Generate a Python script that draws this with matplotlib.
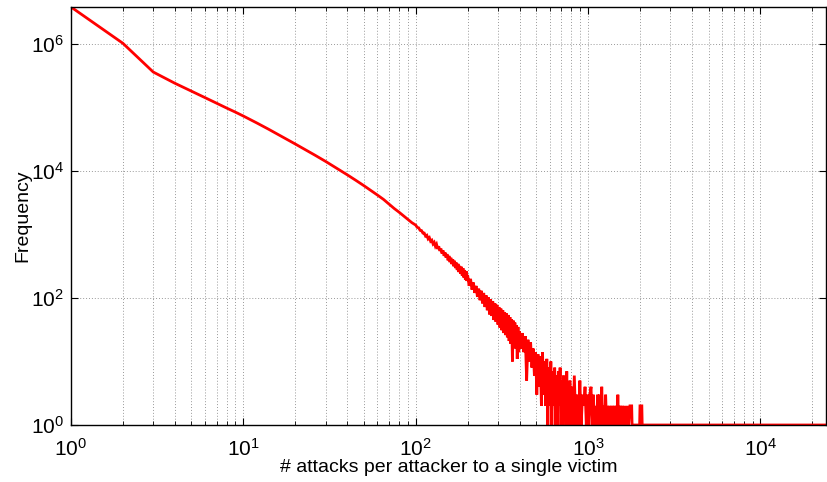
import numpy as np
import matplotlib
matplotlib.use("Agg")
import matplotlib.pyplot as plt
from matplotlib.ticker import LogLocator, NullLocator, FixedLocator, LogFormatterSciNotation, NullFormatter

plt.rcParams['font.family'] = ['Liberation Sans', 'DejaVu Sans']
plt.rcParams['mathtext.fontset'] = 'custom'
plt.rcParams['mathtext.rm'] = 'Liberation Sans'
plt.rcParams['mathtext.it'] = 'Liberation Sans'
plt.rcParams['mathtext.default'] = 'regular'

# ---------------- data ----------------
x_head = [1, 2, 3, 4, 5, 6, 7, 8, 9, 10, 12, 14, 16, 18, 20, 23, 26, 30, 35, 40,
          45, 50, 55, 60, 65, 70, 75, 80, 85, 90, 95]
y_head = [3.8e6, 1.02e6, 3.6e5, 2.4e5, 1.8e5, 1.42e5, 1.16e5, 9.75e4, 8.4e4, 7.3e4,
          5.66e4, 4.53e4, 3.71e4, 3.11e4, 2.65e4, 2.14e4, 1.77e4, 1.41e4, 1.09e4, 8.7e3,
          7.08e3, 5.86e3, 4.91e3, 4.16e3, 3.56e3, 3.0e3, 2.56e3, 2.24e3, 1.96e3, 1.73e3,
          1.53e3]

x_seg1 = list(range(100, 200, 2))
y_seg1 = [1400, 1290, 1270, 1160, 1150, 1050, 1050, 940, 970, 850,
          890, 780, 810, 710, 750, 650, 700, 590, 650, 550,
          600, 500, 560, 460, 520, 430, 490, 390, 460, 365,
          430, 340, 405, 315, 385, 295, 360, 275, 345, 255,
          320, 240, 310, 225, 295, 210, 275, 195, 265, 185]

x_seg2 = list(range(200, 400, 4))
y_seg2 = [230, 155, 200, 135, 175, 120, 155, 104, 140, 92,
          130, 82, 120, 72, 110, 64, 102, 55, 95, 52,
          88, 45, 82, 42, 78, 38, 72, 34, 68, 31,
          64, 28, 60, 26, 57, 24, 54, 21, 50, 19,
          46, 10, 44, 18, 41, 16, 37, 11, 35, 14]

x_seg3 = list(range(400, 800, 8))
y_seg3 = [30, 16, 28, 14, 25, 5, 22, 10, 20, 8,
          16, 6, 14, 3, 13, 4, 12, 2, 14, 3,
          10, 2, 11, 1, 8, 2, 10, 1, 7, 2,
          8, 1, 6, 1, 7, 2, 8, 1, 5, 1,
          6, 2, 4, 1, 7, 1, 4, 1, 5, 1]

x_seg4 = list(range(800, 1600, 16))
y_seg4 = [4, 1, 6, 1, 3, 1, 5, 1, 3, 2,
          4, 1, 3, 1, 3, 4, 1, 3, 1, 2,
          1, 3, 1, 3, 1, 4, 1, 2, 1, 3,
          1, 2, 1, 2, 1, 2, 1, 2, 1, 2,
          1, 2, 1, 3, 1, 2, 1, 2, 1, 2]

x_tail = [1600, 1630, 1660, 1690, 1720, 1750, 1790, 1800, 1990, 2000, 2050, 2060, 24000]
y_tail = [1, 2, 1, 2, 1, 2, 2, 1, 1, 2, 2, 1, 1]

x_label = "# attacks per attacker to a single victim"
y_label = "Frequency"
x_limits = (1, 2.4e4)
y_limits = (1, 3.8e6)
y_major = [1, 1e2, 1e4, 1e6]

# ---------------- plot ----------------
x = np.concatenate([x_head, x_seg1, x_seg2, x_seg3, x_seg4, x_tail]).astype(float)
y = np.concatenate([y_head, y_seg1, y_seg2, y_seg3, y_seg4, y_tail]).astype(float)

W, H = 827, 482
fig = plt.figure(figsize=(W / 100, H / 100), dpi=100)
ax = fig.add_axes([71 / W, (H - 425) / H, (826 - 71) / W, (425 - 7) / H])

ax.plot(x, y, color=(1, 0, 0), linewidth=2.0, solid_joinstyle='miter', clip_on=True)
ax.set_xscale('log')
ax.set_yscale('log')
ax.set_xlim(*x_limits)
ax.set_ylim(*y_limits)

ax.xaxis.set_major_locator(LogLocator(base=10, numticks=10))
ax.xaxis.set_minor_locator(LogLocator(base=10, subs=np.arange(2, 10), numticks=100))
ax.xaxis.set_minor_formatter(NullFormatter())
ax.yaxis.set_major_locator(FixedLocator(y_major))
ax.yaxis.set_major_formatter(LogFormatterSciNotation())
ax.yaxis.set_minor_locator(NullLocator())

ax.grid(True, which='major', axis='both', color='0.6', linestyle=(0, (1, 2)), linewidth=0.7)
ax.grid(True, which='minor', axis='x', color='0.6', linestyle=(0, (1, 2)), linewidth=0.7)
ax.set_axisbelow(True)

ax.tick_params(which='both', direction='in', top=True, right=True, colors='black',
               labelsize=15)
ax.tick_params(which='major', length=5, width=0.8)
ax.tick_params(which='minor', length=3, width=0.6)
ax.tick_params(axis='x', which='major', pad=9)
ax.tick_params(axis='y', which='major', pad=5)
for s in ax.spines.values():
    s.set_linewidth(1.0)
    s.set_color('black')

ax.set_xlabel(x_label, fontsize=14, labelpad=0)
ax.set_ylabel(y_label, fontsize=14, labelpad=0)

fig.savefig("out.png", dpi=100)
